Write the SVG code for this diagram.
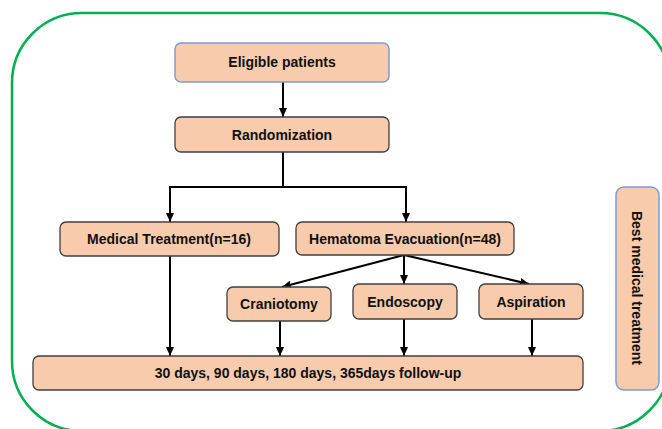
<svg xmlns="http://www.w3.org/2000/svg" width="662" height="429" viewBox="0 0 662 429">
<style>
.box{fill:#F8CBAD;stroke:#3F3F3F;stroke-width:1.3}
.bbox{fill:#F8CBAD;stroke:#7F9CD0;stroke-width:1.5}
.t{font-family:"Liberation Sans",Arial,sans-serif;font-weight:bold;font-size:14px;fill:#111;text-anchor:middle}
.c{fill:none;stroke:#000;stroke-width:2}
</style>
<defs>
<marker id="ah" markerUnits="userSpaceOnUse" markerWidth="10" markerHeight="10" viewBox="0 0 10 10" refX="9" refY="5" orient="auto">
<path d="M0,1 L9,5 L0,9 Z" fill="#000"/>
</marker>
</defs>
<rect x="12" y="13" width="658" height="418" rx="70" ry="70" fill="none" stroke="#00B050" stroke-width="2.5"/>
<g id="connectors">
<path class="c" d="M283,82 V117" marker-end="url(#ah)"/>
<path class="c" d="M283,152 V187 H170 V222" marker-end="url(#ah)"/>
<path class="c" d="M283,187 H406 V222" marker-end="url(#ah)"/>
<path class="c" d="M404,255 L282,287" marker-end="url(#ah)"/>
<path class="c" d="M404,255 V284" marker-end="url(#ah)"/>
<path class="c" d="M404,255 L529,284" marker-end="url(#ah)"/>
<path class="c" d="M170,256 V356" marker-end="url(#ah)"/>
<path class="c" d="M280,321 V356" marker-end="url(#ah)"/>
<path class="c" d="M404,319 V356" marker-end="url(#ah)"/>
<path class="c" d="M532,319 V356" marker-end="url(#ah)"/>
</g>
<g id="eligible">
<rect class="bbox" x="175" y="43" width="214" height="39" rx="6"/>
<text class="t" x="282" y="67">Eligible patients</text>
</g>
<g id="randomization">
<rect class="box" x="175" y="117" width="214" height="35" rx="6"/>
<text class="t" x="282" y="139.5">Randomization</text>
</g>
<g id="medical">
<rect class="box" x="60" y="222" width="219" height="34" rx="6"/>
<text class="t" x="169" y="244">Medical Treatment(n=16)</text>
</g>
<g id="hematoma">
<rect class="box" x="296" y="222" width="218" height="33" rx="6"/>
<text class="t" x="405" y="243.5">Hematoma Evacuation(n=48)</text>
</g>
<g id="craniotomy">
<rect class="box" x="227" y="287" width="104" height="34" rx="6"/>
<text class="t" x="279" y="309">Craniotomy</text>
</g>
<g id="endoscopy">
<rect class="box" x="353" y="284" width="104" height="35" rx="6"/>
<text class="t" x="405" y="306.5">Endoscopy</text>
</g>
<g id="aspiration">
<rect class="box" x="479" y="284" width="104" height="35" rx="6"/>
<text class="t" x="531" y="306.5">Aspiration</text>
</g>
<g id="followup">
<rect class="box" x="33" y="356" width="550" height="34" rx="6"/>
<text class="t" x="308" y="378">30 days, 90 days, 180 days, 365days follow-up</text>
</g>
<g id="best">
<rect class="bbox" x="616" y="187" width="43" height="203" rx="8"/>
<text class="t" transform="translate(632,288) rotate(90)" x="0" y="0">Best medical treatment</text>
</g>
</svg>
